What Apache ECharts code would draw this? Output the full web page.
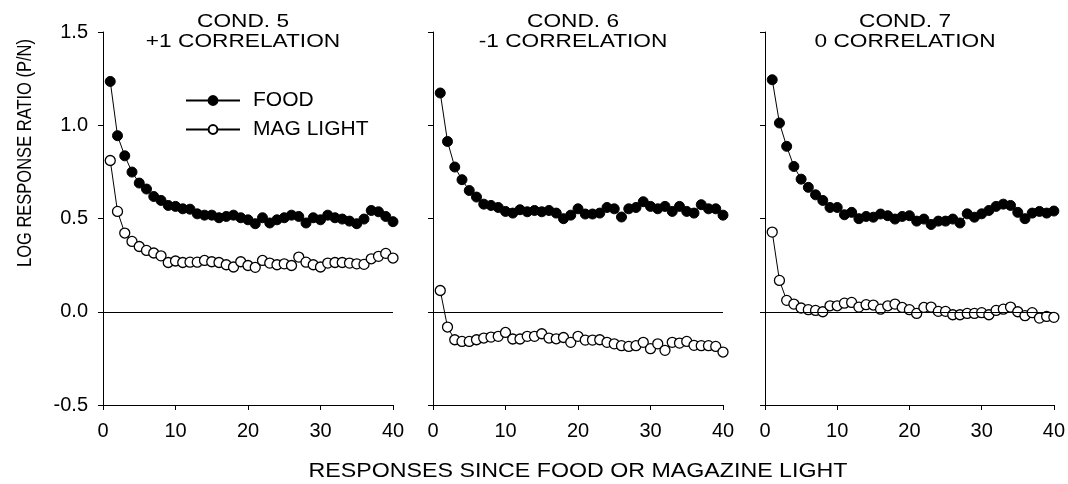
<!DOCTYPE html>
<html>
<head>
<meta charset="utf-8">
<script src="https://cdn.jsdelivr.net/npm/echarts@6/dist/echarts.min.js"></script>
<style>
  html, body { margin: 0; padding: 0; background: #fff; }
  #chart { width: 1068px; height: 484px; }
</style>
</head>
<body>
<div id="chart"></div>
<script>
// Response number since the last food / magazine-light event
const responses = [1,2,3,4,5,6,7,8,9,10,11,12,13,14,15,16,17,18,19,20,
                   21,22,23,24,25,26,27,28,29,30,31,32,33,34,35,36,37,38,39,40];

const xTicks = [0, 10, 20, 30, 40];
const yTicks = [-0.5, 0.0, 0.5, 1.0, 1.5];

const panelTitles = [
  ['COND. 5', '+1 CORRELATION'],
  ['COND. 6', '-1 CORRELATION'],
  ['COND. 7', '0 CORRELATION']
];
const xAxisTitle = 'RESPONSES SINCE FOOD OR MAGAZINE LIGHT';
const yAxisTitle = 'LOG RESPONSE RATIO (P/N)';

// Log response ratio (P/N), condition 5
const food5 = [1.235,0.944,0.836,0.749,0.690,0.658,0.618,0.597,0.570,0.565,
               0.552,0.550,0.525,0.518,0.518,0.504,0.511,0.518,0.504,0.493,
               0.472,0.504,0.476,0.493,0.504,0.518,0.511,0.476,0.504,0.493,
               0.518,0.504,0.497,0.486,0.472,0.497,0.543,0.536,0.511,0.483];
const mag5  = [0.811,0.538,0.422,0.377,0.350,0.329,0.315,0.300,0.264,0.272,
               0.264,0.266,0.266,0.275,0.268,0.264,0.252,0.240,0.268,0.248,
               0.238,0.275,0.261,0.252,0.257,0.248,0.293,0.266,0.252,0.240,
               0.261,0.264,0.264,0.261,0.257,0.254,0.284,0.297,0.313,0.288];

// Condition 6
const food6 = [1.173,0.913,0.776,0.708,0.650,0.615,0.577,0.570,0.559,0.538,
               0.529,0.547,0.536,0.543,0.536,0.543,0.529,0.499,0.518,0.552,
               0.524,0.524,0.529,0.559,0.552,0.508,0.552,0.559,0.590,0.565,
               0.552,0.565,0.538,0.565,0.538,0.529,0.574,0.552,0.552,0.518];
const mag6  = [0.114,-0.082,-0.150,-0.159,-0.159,-0.150,-0.141,-0.136,-0.132,-0.111,
               -0.146,-0.146,-0.132,-0.132,-0.118,-0.141,-0.145,-0.138,-0.164,-0.132,
               -0.152,-0.152,-0.150,-0.164,-0.172,-0.182,-0.186,-0.182,-0.164,-0.198,
               -0.172,-0.207,-0.164,-0.168,-0.159,-0.180,-0.182,-0.182,-0.186,-0.216];

// Condition 7
const food7 = [1.244,1.012,0.887,0.779,0.711,0.667,0.627,0.597,0.559,0.559,
               0.520,0.533,0.499,0.511,0.507,0.524,0.515,0.497,0.511,0.515,
               0.486,0.497,0.468,0.486,0.486,0.497,0.476,0.525,0.507,0.525,
               0.543,0.565,0.577,0.570,0.533,0.499,0.529,0.538,0.529,0.540];
const mag7  = [0.427,0.168,0.061,0.041,0.020,0.011,0.007,0.000,0.032,0.032,
               0.046,0.050,0.025,0.038,0.036,0.014,0.032,0.041,0.023,0.011,
               -0.009,0.023,0.025,0.002,0.002,-0.016,-0.016,-0.009,-0.009,-0.005,
               -0.016,0.007,0.014,0.025,0.000,-0.021,-0.005,-0.034,-0.025,-0.030];

const foodSets = [food5, food6, food7];
const magSets = [mag5, mag6, mag7];

const FONT = '"Liberation Sans", Arial, Helvetica, sans-serif';
const INK = '#000';
// the lettering is set a little wider than the regular face
const WIDE = 1.26;

const panelLefts = [103, 433, 765];
const panelWidth = 290;
const plotTop = 32, plotHeight = 373;

const pairs = ys => responses.map((x, i) => [x, ys[i]]);

const grids = panelLefts.map(l => ({ left: l, width: panelWidth, top: plotTop, height: plotHeight }));

const xAxes = panelLefts.map((l, i) => ({
  type: 'value', gridIndex: i,
  min: xTicks[0], max: xTicks[xTicks.length - 1], interval: xTicks[1] - xTicks[0],
  splitLine: { show: false },
  axisLine: { show: true, onZero: false, lineStyle: { color: INK, width: 1 } },
  axisTick: { show: true, length: 5, lineStyle: { color: INK, width: 1 } },
  axisLabel: { color: INK, fontSize: 20, fontFamily: FONT, margin: 16 }
}));

const yAxes = panelLefts.map((l, i) => ({
  type: 'value', gridIndex: i,
  min: yTicks[0], max: yTicks[yTicks.length - 1], interval: yTicks[1] - yTicks[0],
  splitLine: { show: false },
  axisLine: { show: true, onZero: false, lineStyle: { color: INK, width: 1 } },
  axisTick: { show: true, length: 5, lineStyle: { color: INK, width: 1 } },
  axisLabel: {
    show: i === 0, color: INK, fontSize: 20, fontFamily: FONT, margin: 15,
    formatter: v => v.toFixed(1)
  }
}));

const series = [];
panelLefts.forEach((l, i) => {
  series.push({
    name: 'MAG LIGHT', type: 'line', xAxisIndex: i, yAxisIndex: i,
    data: pairs(magSets[i]),
    symbol: 'circle', symbolSize: 10, showAllSymbol: true,
    lineStyle: { color: INK, width: 1 },
    itemStyle: { color: '#fff', borderColor: INK, borderWidth: 1.3 },
    emphasis: { disabled: true },
    markLine: {
      silent: true, symbol: 'none', label: { show: false },
      lineStyle: { color: INK, width: 1, type: 'solid' },
      data: [{ yAxis: 0 }]
    },
    z: 2
  });
  series.push({
    name: 'FOOD', type: 'line', xAxisIndex: i, yAxisIndex: i,
    data: pairs(foodSets[i]),
    symbol: 'circle', symbolSize: 10, showAllSymbol: true,
    lineStyle: { color: INK, width: 1 },
    itemStyle: { color: INK, borderColor: INK, borderWidth: 1 },
    emphasis: { disabled: true },
    z: 3
  });
});

// Panel headings, axis titles
const texts = [];
panelLefts.forEach((l, i) => {
  panelTitles[i].forEach((line, k) => {
    texts.push({
      type: 'text', x: l + panelWidth / 2 - 5, y: 22 + k * 20, scaleX: WIDE,
      style: { text: line, fill: INK, font: '18px ' + FONT, align: 'center', verticalAlign: 'middle' }
    });
  });
});
texts.push({
  type: 'text', x: panelLefts[1] + panelWidth / 2, y: 471, scaleX: 1.16,
  style: { text: xAxisTitle, fill: INK, font: '20px ' + FONT, align: 'center', verticalAlign: 'middle' }
});
texts.push({
  type: 'text', x: 25, y: 153, rotation: Math.PI / 2, scaleY: WIDE,
  style: { text: yAxisTitle, fill: INK, font: '16.5px ' + FONT, align: 'center', verticalAlign: 'middle' }
});

const chart = echarts.init(document.getElementById('chart'), null, { renderer: 'canvas' });
chart.setOption({
  backgroundColor: '#fff',
  animation: false,
  textStyle: { fontFamily: FONT, color: INK },
  legend: {
    data: ['FOOD', 'MAG LIGHT'],
    orient: 'vertical', left: 185, top: 90, padding: 0,
    itemWidth: 54, itemHeight: 11, itemGap: 8,
    textStyle: { fontSize: 21, lineHeight: 20, color: INK, fontFamily: FONT, padding: [0, 0, 0, 8] },
    selectedMode: false
  },
  grid: grids,
  xAxis: xAxes,
  yAxis: yAxes,
  series: series,
  graphic: texts
});
</script>
</body>
</html>
